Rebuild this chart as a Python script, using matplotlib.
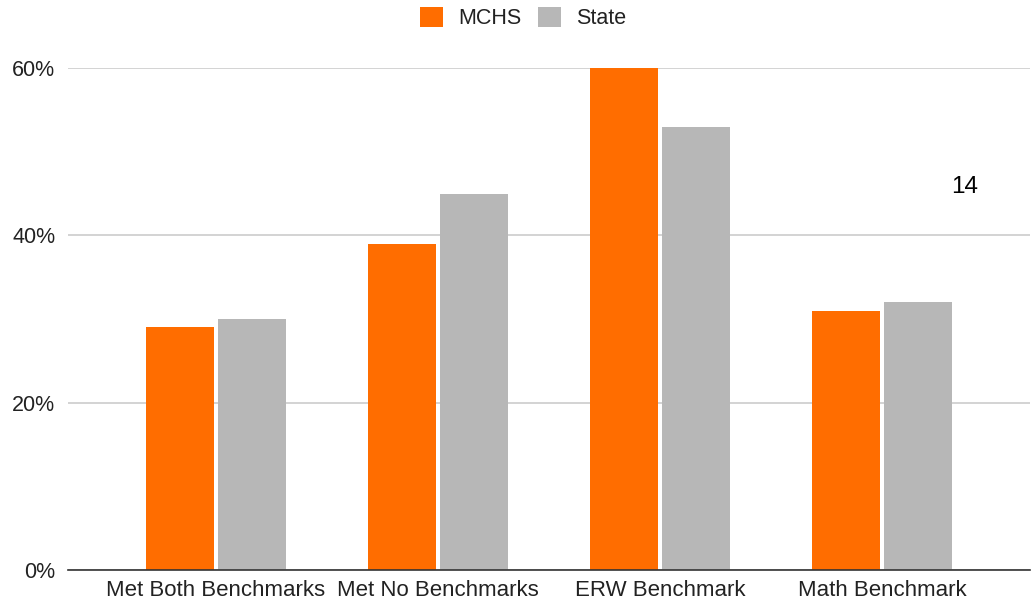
import numpy as np
import matplotlib.pyplot as plt
from matplotlib.ticker import FuncFormatter

plt.rcParams['font.family'] = ['Liberation Sans', 'DejaVu Sans']

categories = ['Met Both Benchmarks', 'Met No Benchmarks', 'ERW Benchmark', 'Math Benchmark']
mchs = [29, 39, 60, 31]
state = [30, 45, 53, 32]

fig = plt.figure(figsize=(10.36, 6.04), dpi=100)
ax = fig.add_axes([0.0656, 0.0563, 0.9285, 0.8311])

x = np.arange(len(categories))
w = 0.305
ax.bar(x - 0.163, mchs, w, color='#FF6D00', label='MCHS', zorder=3)
ax.bar(x + 0.163, state, w, color='#B7B7B7', label='State', zorder=3)

ax.set_xlim(-0.667, 3.667)
ax.set_ylim(0, 60)
ax.set_yticks([0, 20, 40, 60])
ax.yaxis.set_major_formatter(FuncFormatter(lambda v, p: f'{v:.0f}%'))
ax.set_xticks(x)
ax.set_xticklabels(categories)
ax.grid(axis='y', color='#CCCCCC', linewidth=1.2, zorder=0)
ax.tick_params(length=0, labelsize=15.5, colors='#222222', pad=9)
ax.tick_params(axis='x', labelsize=16, pad=7)
for s in ['top', 'right', 'left']:
    ax.spines[s].set_visible(False)
ax.spines['bottom'].set_color('#333333')
ax.spines['bottom'].set_linewidth(1.2)
ax.spines['bottom'].set_zorder(4)

ax.text(3.375, 45.8, '14', fontsize=17.5, ha='center', va='center', color='black')

# legend centred on the figure, not the axes
fig.legend(*ax.get_legend_handles_labels(), loc='center', bbox_to_anchor=(0.505, 0.97),
           ncol=2, frameon=False, fontsize=15.5, handlelength=1.05, handleheight=1.05,
           handletextpad=0.7, columnspacing=0.8, labelcolor='#222222')

fig.savefig('out.png', dpi=100)
